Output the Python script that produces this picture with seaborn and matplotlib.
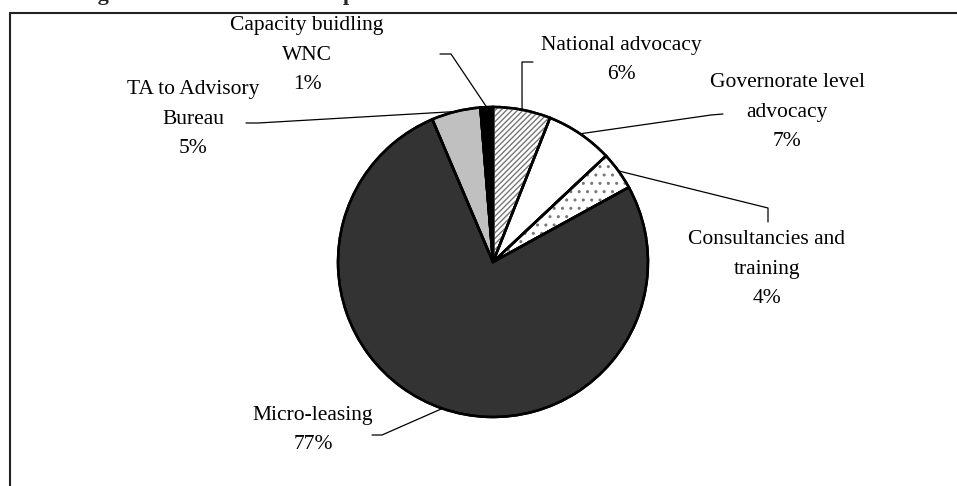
import numpy as np
import matplotlib
matplotlib.use("Agg")
import matplotlib.pyplot as plt
import seaborn as sns
from matplotlib.lines import Line2D

# data (clockwise from 12 o'clock)
categories = ["National advocacy", "Governorate level\nadvocacy", "Consultancies and\ntraining",
              "Micro-leasing", "TA to Advisory\nBureau", "Capacity buidling\nWNC"]
shares = [6.0, 7.0, 4.0, 76.6, 5.1, 1.3]
face_colors = ["white", "white", "white", "#333333", "#c0c0c0", "black"]
hatches = ["//////", None, "..", None, None, None]

# label placement in pixels (center of the text block) and leader line bends
W, H = 957, 486
cx, cy, r = 493, 262, 155
label_pos = [(621, 60), (787, 112), (767, 269), (313, 430), (193, 119), (307, 55)]
leader_start = [[(533, 62), (522, 62)], [(723, 114), (711, 115)], [(768, 222), (768, 208)],
                [(372, 435), (382, 435)], [(246, 123), (258, 123)], [(440, 54), (451, 54)]]

sns.set_theme(style="white")
plt.rcParams['font.family'] = ['Liberation Serif', 'DejaVu Serif']
plt.rcParams['hatch.linewidth'] = 1.0

fig = plt.figure(figsize=(W / 100, H / 100), dpi=100)
ax = fig.add_axes([(cx - r) / W, (H - cy - r) / H, 2 * r / W, 2 * r / H])

wedges, _ = ax.pie(shares, colors=face_colors, startangle=90, counterclock=False,
                   wedgeprops=dict(edgecolor="black", linewidth=1.8))
# gray hatch overlay
over, _ = ax.pie(shares, colors=["none"] * len(shares), startangle=90, counterclock=False,
                 wedgeprops=dict(edgecolor="#777777", linewidth=0))
for w, h in zip(over, hatches):
    if h:
        w.set_hatch(h)
    w.set_facecolor("none")
# outline again on top
ax.pie(shares, colors=["none"] * len(shares), startangle=90, counterclock=False,
       wedgeprops=dict(edgecolor="black", linewidth=1.8, fill=False))
ax.set_xlim(-1, 1)
ax.set_ylim(-1, 1)
ax.axis("off")


def to_data(p):
    return (p[0] - cx) / r, (cy - p[1]) / r


for i, w in enumerate(wedges):
    mid = np.deg2rad((w.theta1 + w.theta2) / 2)
    edge = (np.cos(mid), np.sin(mid))
    pts = [to_data(p) for p in leader_start[i]] + [edge]
    xs, ys = zip(*pts)
    ax.plot(xs, ys, color="black", linewidth=0.9, clip_on=False)
    tx, ty = to_data(label_pos[i])
    ax.text(tx, ty, f"{categories[i]}\n{round(shares[i])}%", ha="center", va="center",
            fontsize=15.5, linespacing=1.75, color="black")

# frame (cut at right and bottom in the original)
fig.add_artist(Line2D([10 / W, 10 / W], [0, 1 - 13 / H], transform=fig.transFigure,
                      color="#222222", linewidth=1.5))
fig.add_artist(Line2D([10 / W, 1], [1 - 13 / H, 1 - 13 / H], transform=fig.transFigure,
                      color="#222222", linewidth=1.5))

# title mostly cut off above the frame, as in the original
fig.text(58 / W, 1.0, "Budget allocation to each component", fontsize=16, fontweight="bold",
         ha="left", va="baseline")

fig.savefig("out.png", dpi=100)
